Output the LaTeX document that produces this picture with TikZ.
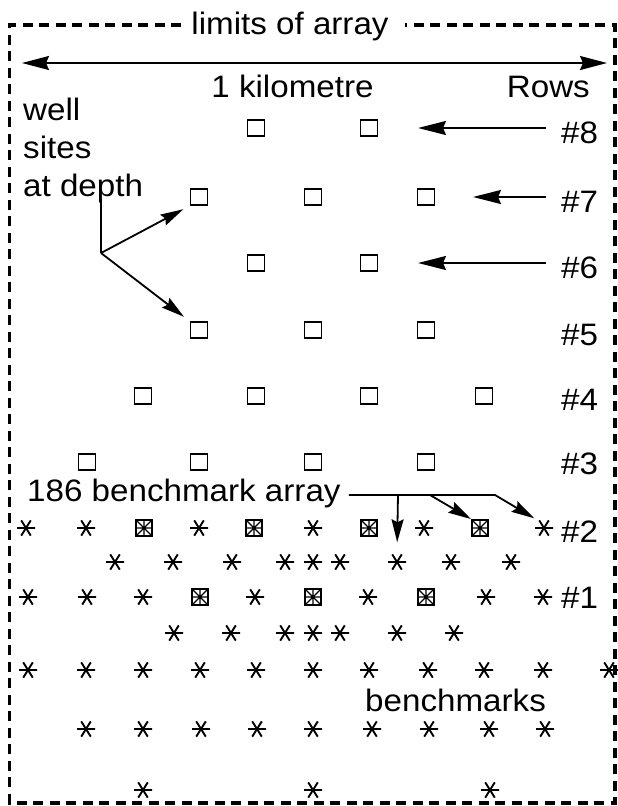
\documentclass[tikz,border=0pt]{standalone}
\usepackage{fontspec}
\setmainfont{Liberation Sans}[FakeStretch=1.07]
\usetikzlibrary{arrows.meta}
\begin{document}
\begin{tikzpicture}[x=1pt,y=-1pt,
  font=\fontsize{31}{38}\selectfont,
  txt/.style={inner sep=0pt},
  well/.style={draw, line width=1.9pt, minimum width=17pt, minimum height=16pt, inner sep=0pt},
  ast/.style={minimum size=19pt, inner sep=0pt,
    path picture={\draw[line width=1.9pt] (path picture bounding box.center)
      +(0:9pt) -- +(180:9pt) +(58:9pt) -- +(238:9pt) +(122:9pt) -- +(302:9pt);}},
  bast/.style={draw, line width=1.9pt, minimum size=16pt, inner sep=0pt,
    path picture={\draw[line width=1.3pt]
      (path picture bounding box.north west) -- (path picture bounding box.south east)
      (path picture bounding box.north east) -- (path picture bounding box.south west)
      (path picture bounding box.north) -- (path picture bounding box.south)
      (path picture bounding box.west) -- (path picture bounding box.east);}},
  border/.style={line width=3.4pt, dash pattern=on 10pt off 6.5pt},
  dbl/.style={line width=1.8pt, {Stealth[length=27pt,width=14pt,inset=3pt]}-{Stealth[length=27pt,width=14pt,inset=3pt]}},
  rowarr/.style={line width=1.8pt, -{Stealth[length=28pt,width=14pt,inset=3pt]}},
  smarr/.style={line width=1.8pt, -{Stealth[length=23pt,width=12pt,inset=3pt]}},
]
\useasboundingbox (0,0) rectangle (618,806);

% border with title
\node[txt, anchor=base] (lim) at (290,34) {limits of array};
\coordinate (tl) at (9.5,25);
\coordinate (tr) at (615,25);
\coordinate (bl) at (9.5,803);
\coordinate (br) at (615,803);
\draw[border] ([xshift=-10pt]lim.west |- tl) -- (tl) -- (bl) -- (br) -- (tr) -- ([xshift=16pt]lim.east |- tr);

% scale
\coordinate (sL) at (22,63);
\coordinate (sR) at (607,63);
\draw[dbl] (sL) -- (sR);
\node[txt, anchor=base] (km) at (292.5,97) {1 kilometre};
\node[txt, anchor=base east] (rows) at (590,97) {Rows};

% well sites label
\node[txt, anchor=base west] (w1) at (23,120) {well};
\node[txt, anchor=base west] (w2) at (23,158) {sites};
\node[txt, anchor=base west] (w3) at (23,196) {at depth};

% well squares
\foreach \x [count=\i] in {256,369} \node[well] (r8-\i) at (\x,128) {};
\foreach \x [count=\i] in {199,313,426} \node[well] (r7-\i) at (\x,197) {};
\foreach \x [count=\i] in {256,369} \node[well] (r6-\i) at (\x,263) {};
\foreach \x [count=\i] in {199,313,426} \node[well] (r5-\i) at (\x,330) {};
\foreach \x [count=\i] in {143,256,369,484} \node[well] (r4-\i) at (\x,396) {};
\foreach \x [count=\i] in {87,199,313,426} \node[well] (r3-\i) at (\x,462) {};

% row labels
\node[txt, anchor=base west] (h8) at (561,143) {\#8};
\node[txt, anchor=base west] (h7) at (561,212) {\#7};
\node[txt, anchor=base west] (h6) at (561,278) {\#6};
\node[txt, anchor=base west] (h5) at (561,345) {\#5};
\node[txt, anchor=base west] (h4) at (561,410) {\#4};
\node[txt, anchor=base west] (h3) at (561,474) {\#3};
\node[txt, anchor=base west] (h2) at (561,542) {\#2};
\node[txt, anchor=base west] (h1) at (561,608) {\#1};

% row arrows
\coordinate (a8s) at (546,128); \coordinate (a8e) at (418,128);
\coordinate (a7s) at (546,197); \coordinate (a7e) at (473,197);
\coordinate (a6s) at (546,263); \coordinate (a6e) at (418,263);
\draw[rowarr] (a8s) -- (a8e);
\draw[rowarr] (a7s) -- (a7e);
\draw[rowarr] (a6s) -- (a6e);

% well sites arrows
\coordinate (wj0) at (101,199);
\coordinate (wj) at (101,253);
\draw[line width=1.8pt] (wj0) -- (wj);
\draw[smarr, shorten >=7pt] (wj) -- (r7-1.south west);
\draw[smarr, shorten >=7pt] (wj) -- (r5-1.north west);

% row 2
\node[ast] (b2-1) at (26,528) {};
\node[ast] (b2-2) at (86,528) {};
\node[bast] (b2-3) at (144,528) {};
\node[ast] (b2-4) at (199,528) {};
\node[bast] (b2-5) at (254,528) {};
\node[ast] (b2-6) at (313,528) {};
\node[bast] (b2-7) at (369,528) {};
\node[ast] (b2-8) at (424,528) {};
\node[bast] (b2-9) at (480,528) {};
\node[ast] (b2-10) at (544,528) {};

% middle row a
\foreach \x [count=\i] in {115,173,232,285,313,340,397,451,511} \node[ast] (ma-\i) at (\x,562) {};

% row 1
\node[ast] (b1-1) at (28,597) {};
\node[ast] (b1-2) at (87,597) {};
\node[ast] (b1-3) at (143,597) {};
\node[bast] (b1-4) at (200,597) {};
\node[ast] (b1-5) at (255,597) {};
\node[bast] (b1-6) at (313,597) {};
\node[ast] (b1-7) at (368,597) {};
\node[bast] (b1-8) at (426,597) {};
\node[ast] (b1-9) at (486,597) {};
\node[ast] (b1-10) at (543,597) {};

% middle row b
\foreach \x [count=\i] in {174,231,285,313,340,397,454} \node[ast] (mb-\i) at (\x,633) {};
% row c
\foreach \x [count=\i] in {28,86,143,200,256,313,369,428,484,543,609} \node[ast] (rc-\i) at (\x,670) {};
% row d
\foreach \x [count=\i] in {86,143,201,257,313,372,429,489,545} \node[ast] (rd-\i) at (\x,729) {};
% row e
\foreach \x [count=\i] in {143,313,490} \node[ast] (re-\i) at (\x,790) {};

% benchmark labels
\node[txt, anchor=base west] (ba) at (27,501) {186 benchmark array};
\node[txt, anchor=base west] (bm) at (365,711) {benchmarks};

% benchmark arrows
\coordinate (bj0) at ([xshift=8pt]ba.east |- 0,495);
\coordinate (bj1) at (398,495);
\coordinate (bj2) at (430,495);
\coordinate (bj3) at (495,495);
\draw[smarr] (bj0) -- (bj3) -- (b2-10.north west);
\draw[smarr, shorten >=10pt] (bj1) -- (ma-7.north);
\draw[smarr] (bj2) -- (b2-9.north west);
\end{tikzpicture}
\end{document}
